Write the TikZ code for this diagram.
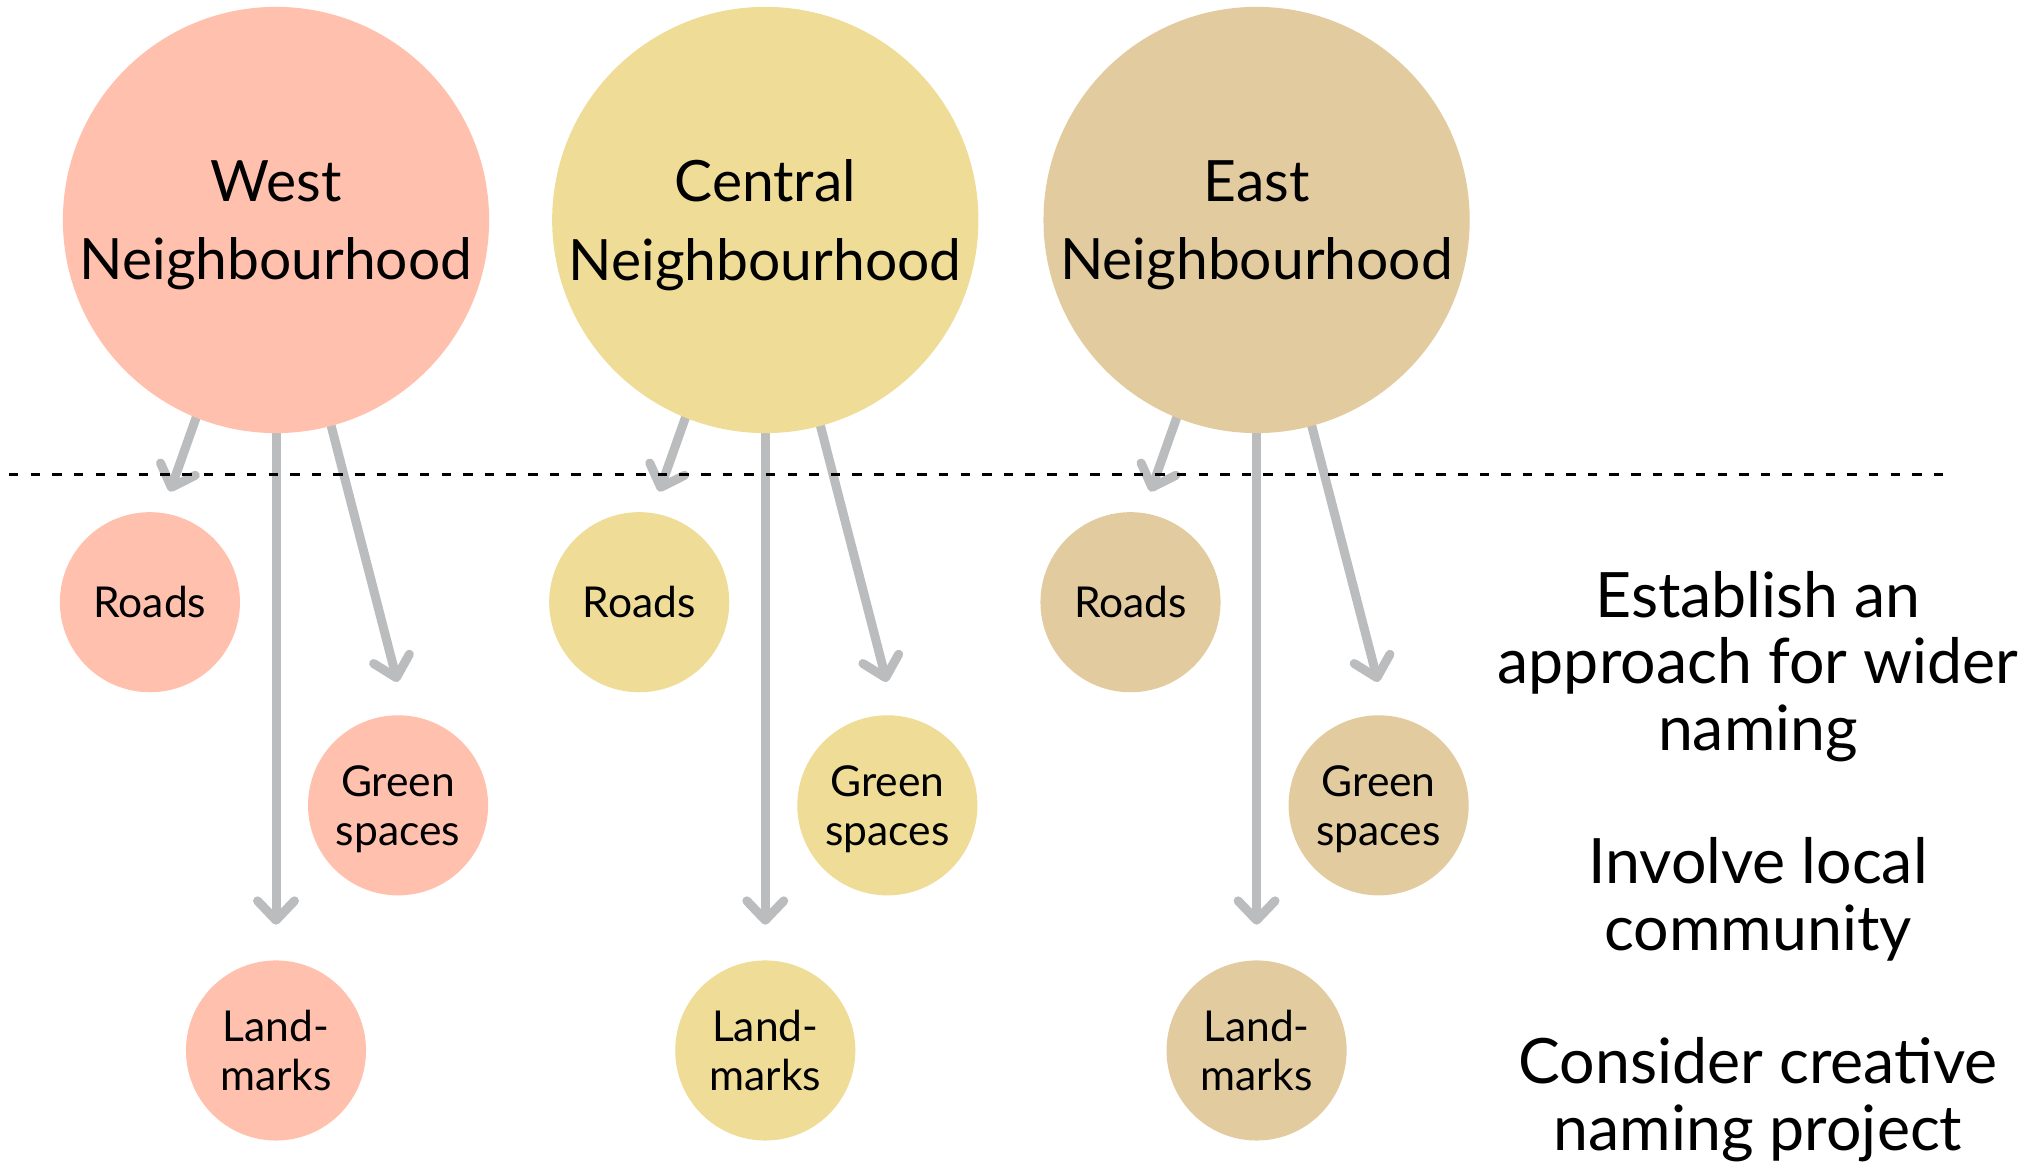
\documentclass[tikz,border=0pt]{standalone}
\usepackage{fontspec}
\setmainfont{Lato}
\usetikzlibrary{positioning,arrows.meta,backgrounds}

\definecolor{westpink}{HTML}{FFC1AD}
\definecolor{centralyellow}{HTML}{EEDC97}
\definecolor{easttan}{HTML}{E2CB9F}
\definecolor{arrowgrey}{HTML}{BBBCBE}

\begin{document}
\begin{tikzpicture}[x=0.01cm, y=-0.01cm, on grid,
                    hood node/.style={circle,inner sep=0pt,minimum size=4.26cm,align=center,
                                      text depth=-0.08cm,font=\fontsize{16.2pt}{22.2pt}\selectfont},
                    topic node/.style={circle,inner sep=0pt,minimum size=1.8cm,align=center,
                                       text depth=-0.04cm,font=\fontsize{12.1pt}{13.9pt}\selectfont},
                    goal node/.style={align=center,inner sep=0pt,text depth=0pt,anchor=south,
                                      font=\fontsize{17.8pt}{18.9pt}\selectfont},
                    link/.style={line width=2.56pt,color=arrowgrey,shorten <=-0.05cm,
                                 -{Straight Barb[length=5.5pt,width=10.5pt,round]}}]
  \useasboundingbox (0,0) rectangle (2037,1165);

  \node[hood node, fill=westpink] (W) at (276,220) {West\\Neighbourhood};
  \node[hood node, fill=centralyellow] (C) [right=4.89cm of W] {Central\\Neighbourhood};
  \node[hood node, fill=easttan] (E) [right=4.91cm of C] {East\\Neighbourhood};

  \node[topic node, fill=westpink] (WR) [below left=3.82cm and 1.26cm of W] {Roads};
  \node[topic node, fill=westpink] (WG) [below right=5.85cm and 1.22cm of W] {Green\\spaces};
  \node[topic node, fill=westpink] (WL) [below=8.3cm of W] {Land-\\marks};

  \node[topic node, fill=centralyellow] (CR) [below left=3.82cm and 1.26cm of C] {Roads};
  \node[topic node, fill=centralyellow] (CG) [below right=5.85cm and 1.22cm of C] {Green\\spaces};
  \node[topic node, fill=centralyellow] (CL) [below=8.3cm of C] {Land-\\marks};

  \node[topic node, fill=easttan] (ER) [below left=3.82cm and 1.26cm of E] {Roads};
  \node[topic node, fill=easttan] (EG) [below right=5.85cm and 1.22cm of E] {Green\\spaces};
  \node[topic node, fill=easttan] (EL) [below=8.3cm of E] {Land-\\marks};

  \node[goal node] (G1) at (1758,751) {Establish an\\approach for wider\\naming};
  \node[goal node] (G2) at (1758,951) {Involve local\\community};
  \node[goal node] (G3) at (1758,1151) {Consider creative\\naming project};

  \begin{scope}[on background layer]
    \path[link]
      (W.248) edge[shorten >=0.22cm] (WR.82)
      (W.south) edge[shorten >=0.35cm] (WL.north)
      (W.285) edge[shorten >=0.34cm] (WG.85)
      (C.248) edge[shorten >=0.22cm] (CR.82)
      (C.south) edge[shorten >=0.35cm] (CL.north)
      (C.285) edge[shorten >=0.34cm] (CG.85)
      (E.248) edge[shorten >=0.22cm] (ER.82)
      (E.south) edge[shorten >=0.35cm] (EL.north)
      (E.285) edge[shorten >=0.34cm] (EG.85);
  \end{scope}

  % dashed divider
  \coordinate (divL) at (9,475);
  \coordinate (divR) at (1951,475);
  \draw[line width=0.85pt, dash pattern=on 2.7pt off 3.45pt] (divL) -- (divR);
\end{tikzpicture}
\end{document}
